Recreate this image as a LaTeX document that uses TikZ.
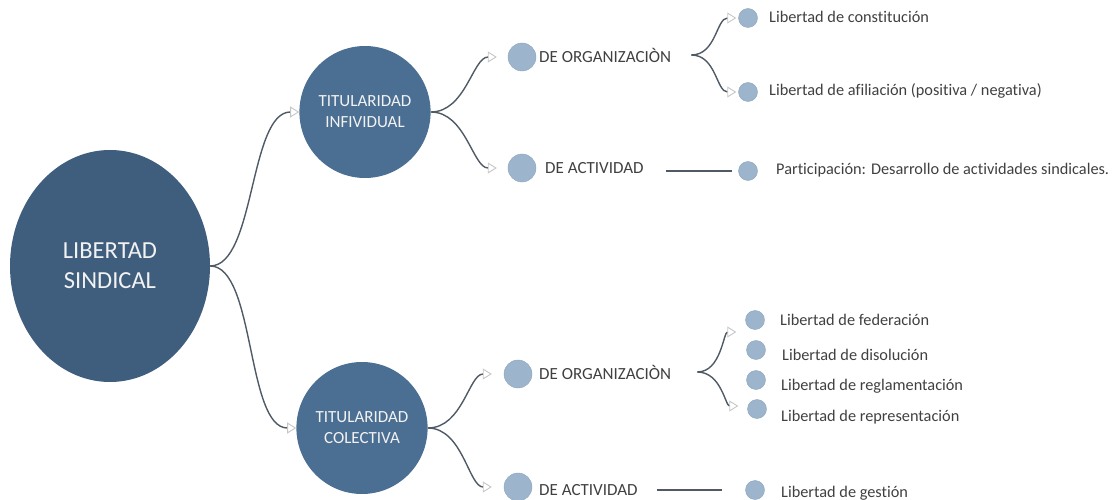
\documentclass[tikz,border=0pt]{standalone}
\usepackage{fontspec}
\setmainfont{Carlito}[Ligatures=NoCommon]
\usetikzlibrary{shapes, positioning, arrows.meta}

\definecolor{rootblue}{HTML}{3F5E7E}
\definecolor{midblue}{HTML}{4B6F93}
\definecolor{dotblue}{HTML}{9DB5CC}
\definecolor{dotedge}{HTML}{8CA4BB}
\definecolor{linegray}{HTML}{4F5A66}
\definecolor{textgray}{HTML}{404040}

\begin{document}
\begin{tikzpicture}[
        x=1pt, y=-1pt,
        root/.style={ellipse, fill=rootblue, text=white!95!black, align=center,
          font=\fontsize{24.5}{30}\selectfont, minimum width=200pt, minimum height=232pt, inner sep=0pt},
        holder/.style={ellipse, fill=midblue, text=white!95!black, align=center,
          font=\fontsize{17}{21}\selectfont, minimum width=122pt, minimum height=132pt, inner sep=0pt},
        kinddot/.style={circle, fill=dotblue, draw=dotedge, inner sep=0pt, minimum size=28pt},
        leafdot/.style={circle, fill=dotblue, draw=dotedge, inner sep=0pt, minimum size=19pt},
        kindtext/.style={anchor=west, text=textgray, inner sep=0pt, font=\fontsize{17}{20}\selectfont},
        leaftext/.style={anchor=west, text=textgray, inner sep=0pt, font=\fontsize{16.3}{19}\selectfont},
        branch/.style={draw=linegray, line width=1.4pt,
          -{Triangle[open, length=9pt, width=11pt, line width=0.9pt, color=gray!45]}},
        plain/.style={draw=linegray, line width=1.5pt}
      ]
      \useasboundingbox (0,0) rectangle (1120,500);

      % main nodes
      \node[root] (ls) at (110,266) {LIBERTAD\\SINDICAL};
      \node[holder] (ti) at (365,112) {TITULARIDAD\\INFIVIDUAL};
      \node[holder] (tc) at (362,428) {TITULARIDAD\\COLECTIVA};

      % second level
      \node[kinddot] (tio) at (522,57) {};
      \node[kindtext] (tiol) at (539,55) {DE ORGANIZACIÒN};
      \node[kinddot] (tia) at (522,168) {};
      \node[kindtext] (tial) at (545,168) {DE ACTIVIDAD};
      \node[kinddot] (tco) at (518,374) {};
      \node[kindtext] (tcol) at (539,372) {DE ORGANIZACIÒN};
      \node[kinddot] (tca) at (518,487) {};
      \node[kindtext] (tcal) at (539,490) {DE ACTIVIDAD};

      % leaves, individual
      \node[leafdot] (l1) at (748,18) {};
      \node[leaftext] (l1t) at (769,17) {Libertad de constitución};
      \node[leafdot] (l2) at (748,92) {};
      \node[leaftext] (l2t) at (769,91) {Libertad de afiliación (positiva / negativa)};
      \node[leafdot] (l3) at (748,171) {};
      \node[leaftext] (l3t) at (776,170) {Participación: Desarrollo de actividades sindicales.};

      % leaves, collective
      \node[leafdot] (c1) at (755,320) {};
      \node[leaftext] (c1t) at (780,320) {Libertad de federación};
      \node[leafdot] (c2) at (756,350) {};
      \node[leaftext] (c2t) at (782,355) {Libertad de disolución};
      \node[leafdot] (c3) at (756,380) {};
      \node[leaftext] (c3t) at (781,386) {Libertad de reglamentación};
      \node[leafdot] (c4) at (757,409) {};
      \node[leaftext] (c4t) at (781,417) {Libertad de representación};
      \node[leafdot] (c5) at (755,490) {};
      \node[leaftext] (c5t) at (781,493) {Libertad de gestión};

      % connectors
      \draw[branch] (ls.east) .. controls +(45,0) and +(-50,0) .. (ti.west);
      \draw[branch] (ls.east) .. controls +(45,0) and +(-50,0) .. (tc.west);
      \draw[branch, shorten >=11pt] (ti.east) .. controls +(35,0) and +(-35,0) .. (tio.west);
      \draw[branch, shorten >=11pt] (ti.east) .. controls +(35,0) and +(-35,0) .. (tia.west);
      \draw[branch, shorten >=12pt] (tc.east) .. controls +(35,0) and +(-35,0) .. (tco.west);
      \draw[branch, shorten >=12pt] (tc.east) .. controls +(35,0) and +(-35,0) .. (tca.west);
      \draw[branch, shorten <=20pt, shorten >=2pt] (tiol.east) .. controls +(45,0) and +(-22,0) .. (l1.west);
      \draw[branch, shorten <=20pt, shorten >=2pt] (tiol.east) .. controls +(45,0) and +(-22,0) .. (l2.west);
      \draw[branch, shorten <=26pt, shorten >=9pt] (tcol.east) .. controls +(50,0) and +(-22,0) .. (c1.west |- 332,332);
      \draw[branch, shorten <=26pt, shorten >=9pt] (tcol.east) .. controls +(50,0) and +(-22,0) .. (c4.west |- 406,406);
      \draw[plain, shorten <=22pt, shorten >=6pt] (tial.east |- l3.west) -- (l3.west);
      \draw[plain, shorten <=19pt, shorten >=23pt] (tcal.east |- c5.west) -- (c5.west);
\end{tikzpicture}
\end{document}
